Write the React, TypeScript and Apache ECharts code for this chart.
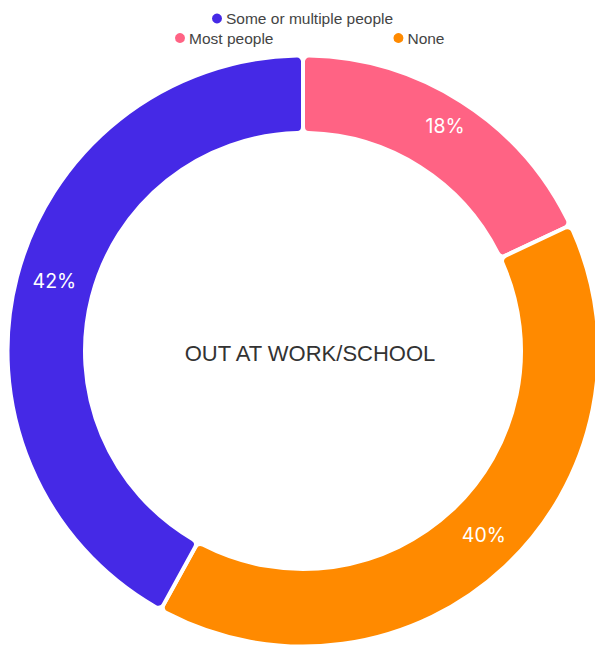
import React, { useEffect, useRef } from "react";
import * as echarts from "echarts";

const categories = ["Most people", "None", "Some or multiple people"];
const values = [18, 40, 42];
const colors = ["#ff6384", "#ff8a00", "#4529e6"];
const centerTitle = "OUT AT WORK/SCHOOL";

export default function App() {
  const ref = useRef<HTMLDivElement>(null);
  useEffect(() => {
    const chart = echarts.init(ref.current!, null, { renderer: "svg" });
    const legendText = {
      fontFamily: "Liberation Sans, Arial",
      fontSize: 15.5,
      color: "#444",
      padding: [0, 0, 0, -2],
    };
    chart.setOption({
      animation: false,
      color: colors,
      legend: [
        {
          data: [categories[2]],
          left: 210,
          top: 10.5,
          padding: 0,
          icon: "circle",
          itemWidth: 12,
          itemHeight: 12,
          itemGap: 10,
          textStyle: legendText,
        },
        {
          data: [categories[0], categories[1]],
          left: 173,
          top: 30,
          padding: 0,
          icon: "circle",
          itemWidth: 12,
          itemHeight: 12,
          itemGap: 118,
          textStyle: legendText,
        },
      ],
      graphic: [
        {
          type: "text",
          x: 310,
          y: 353,
          style: {
            text: centerTitle,
            fontFamily: "Liberation Sans, Arial",
            fontSize: 22,
            fill: "#333",
            align: "center",
            verticalAlign: "middle",
          },
        },
      ],
      series: [
        {
          type: "pie",
          center: [303, 351],
          radius: [218, 295.5],
          startAngle: 90,
          clockwise: true,
          label: {
            show: true,
            position: "inside",
            formatter: "{c}%",
            color: "#fff",
            fontFamily: "Inter",
            fontSize: 19.5,
          },
          labelLayout: { dx: 3, dy: -5.5 },
          labelLine: { show: false },
          emphasis: { disabled: true },
          itemStyle: { borderColor: "#fff", borderWidth: 4, borderRadius: 6 },
          data: categories.map((name, i) => ({ name, value: values[i] })),
        },
      ],
    });
    return () => chart.dispose();
  }, []);
  return (
    <div
      ref={ref}
      style={{ position: "absolute", left: 0, top: 0, width: 595, height: 646 }}
    />
  );
}
